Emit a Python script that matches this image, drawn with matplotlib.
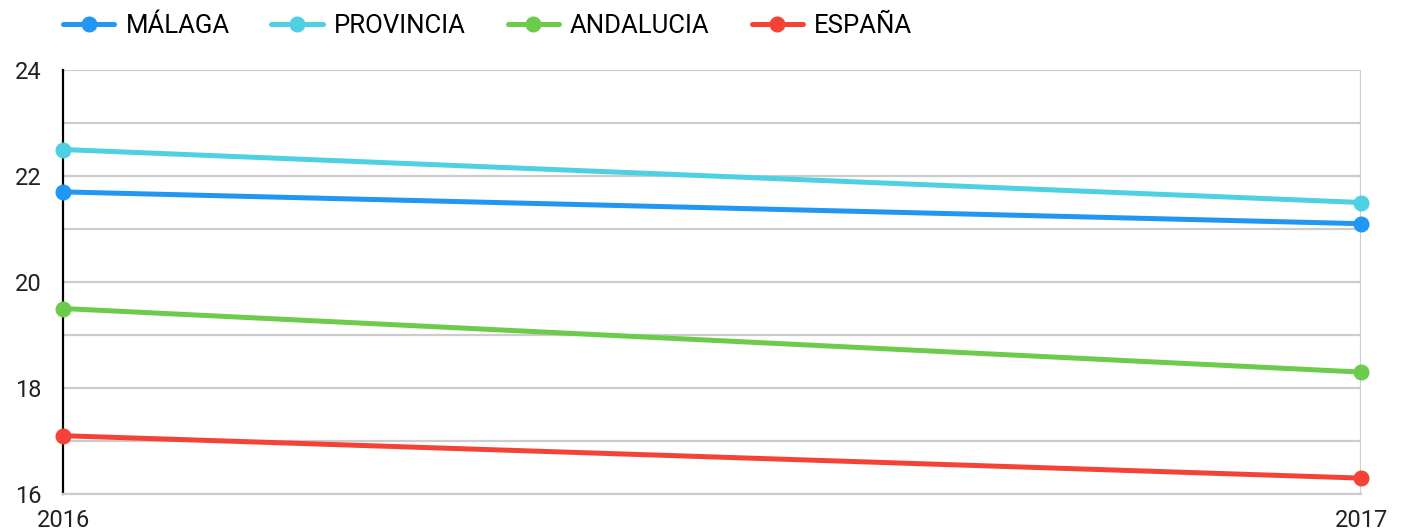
import matplotlib
matplotlib.use("Agg")
import matplotlib.pyplot as plt

years = ["2016", "2017"]
series_names = ["MÁLAGA", "PROVINCIA", "ANDALUCIA", "ESPAÑA"]
malaga = [21.7, 21.1]
provincia = [22.5, 21.5]
andalucia = [19.5, 18.3]
espana = [17.1, 16.3]
colors = ["#2196F3", "#4DD0E1", "#6CCB4B", "#F44336"]
y_ticks = [16, 18, 20, 22, 24]

plt.rcParams['font.family'] = ['Roboto', 'DejaVu Sans']

fig = plt.figure(figsize=(14.01, 5.30), dpi=100)
ax = fig.add_axes([63/1401, 1-494/530, (1361-63)/1401, (494-70)/530])

x = list(range(len(years)))
for name, vals, c in zip(series_names, [malaga, provincia, andalucia, espana], colors):
    ax.plot(x, vals, color=c, lw=3.6, marker='o', markersize=10.5, label=name,
            clip_on=False, zorder=3, solid_capstyle='round')

ax.set_xlim(0, 1)
ax.set_ylim(16, 24)
ax.set_yticks(y_ticks)
ax.set_yticks(range(16, 25), minor=True)
ax.set_xticks(x)
ax.set_xticklabels(years)
ax.grid(True, which='both', axis='y', color='#CCCCCC', lw=1.6)
ax.axvline(1, color='#CCCCCC', lw=1.6, zorder=1)
ax.tick_params(axis='both', which='both', length=0, labelsize=17, labelcolor='#222222')
ax.tick_params(axis='y', pad=25)
ax.tick_params(axis='x', pad=11)
for lab in ax.get_yticklabels():
    lab.set_horizontalalignment('center')
for s in ['top', 'right']:
    ax.spines[s].set_visible(False)
ax.spines['left'].set_color('black')
ax.spines['left'].set_linewidth(1.6)
ax.spines['bottom'].set_color('#CCCCCC')
ax.spines['bottom'].set_linewidth(1.6)

fig.legend(loc='center left', bbox_to_anchor=(63/1401, 1-26/530), ncol=4, frameon=False,
           fontsize=18.5, handlelength=2.0, handletextpad=0.43, columnspacing=1.63,
           borderaxespad=0, borderpad=0)

fig.savefig("out.png", dpi=100)
